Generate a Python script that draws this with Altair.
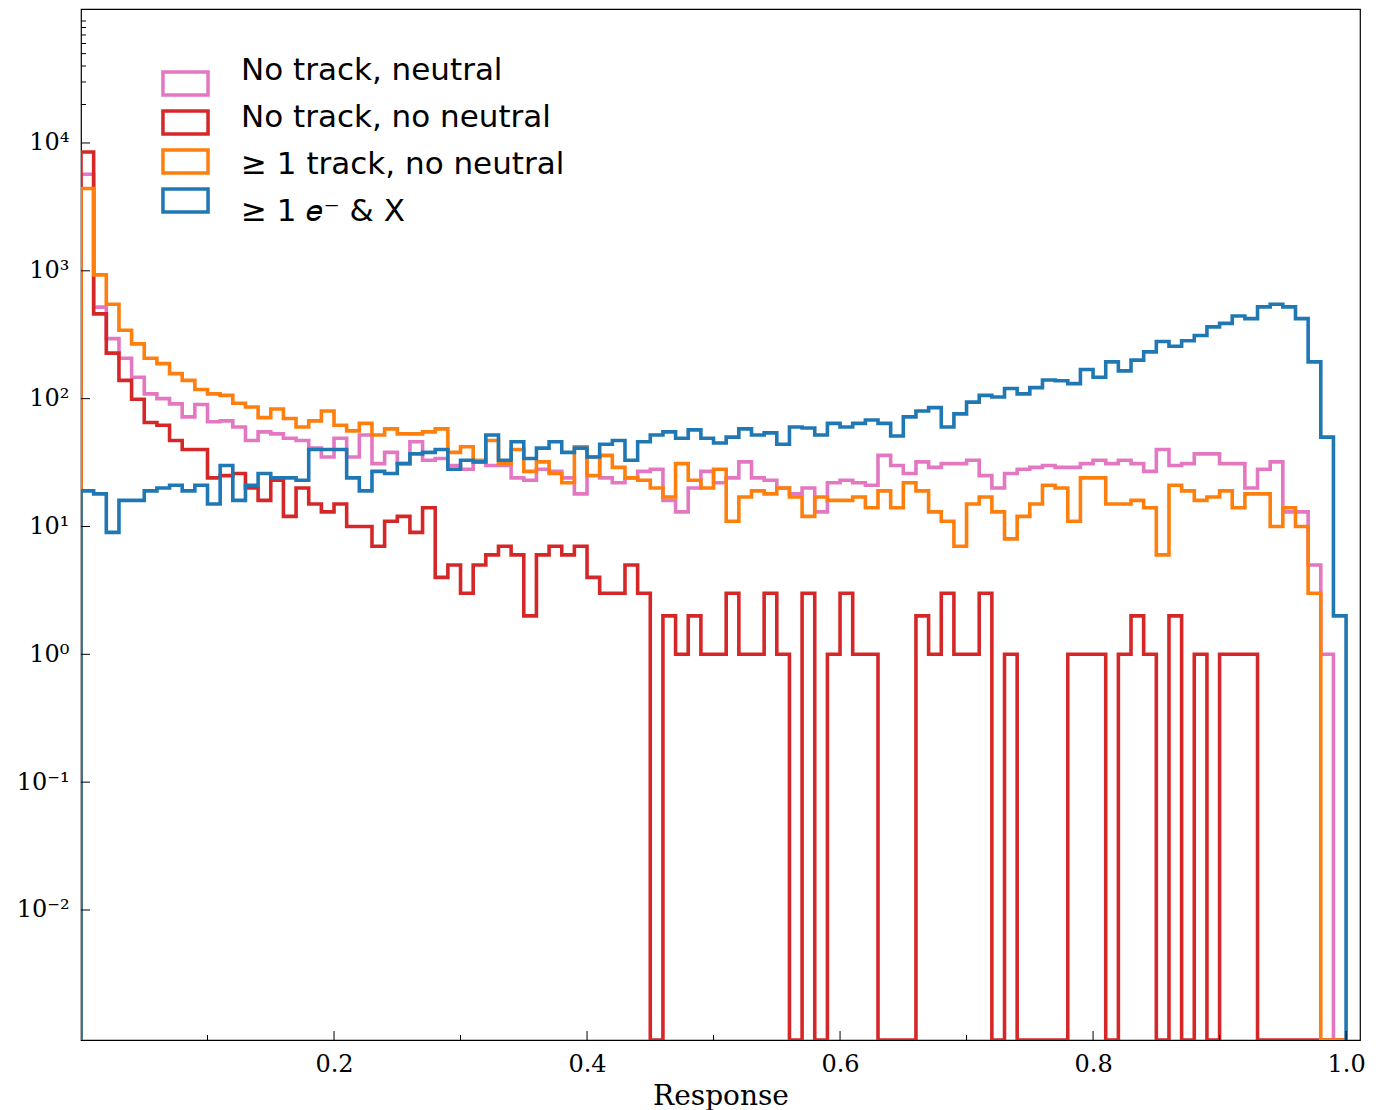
import altair as alt
import pandas as pd
import numpy as np

# ---------------- data ----------------
labels = ["No track, neutral", "No track, no neutral", "≥ 1 track, no neutral", "≥ 1 𝑒⁻ & X"]
colors = ["#e377c2", "#d62728", "#ff7f0e", "#1f77b4"]

no_track_neutral = [
    5700, 520, 295, 207, 147, 109, 100, 91, 72, 90,
    66, 67, 60, 47, 55, 53, 49, 47, 41, 35,
    49, 35, 52, 31, 38, 31, 46, 33, 34, 30,
    28, 32, 30, 30, 24, 23, 28, 27, 24, 18,
    35, 24, 22, 24, 27, 28, 16, 13, 20, 27,
    22, 24, 32, 24, 23, 20, 18, 20, 13, 22,
    23, 22, 21, 36, 30, 26, 32, 29, 31, 31,
    33, 25, 20, 26, 28, 29, 30, 29, 29, 31,
    33, 31, 33, 31, 27, 40, 30, 31, 37, 37,
    31, 31, 20, 28, 32, 13, 13, 5, 1, 0]

no_track_no_neutral = [
    8500, 460, 227, 139, 99, 65, 62, 47, 40, 40,
    24, 25, 26, 20, 16, 23, 12, 20, 15, 13,
    15, 10, 10, 7, 11, 12, 9, 14, 4, 5,
    3, 5, 6, 7, 6, 2, 6, 7, 6, 7,
    4, 3, 3, 5, 3, 0, 2, 1, 2, 1,
    1, 3, 1, 1, 3, 1, 0, 3, 0, 1,
    3, 1, 1, 0, 0, 0, 2, 1, 3, 1,
    1, 3, 0, 1, 0, 0, 0, 0, 1, 1,
    1, 0, 1, 2, 1, 0, 2, 0, 1, 0,
    1, 1, 1, 0, 0, 0, 0, 0, 0, 0]

track_no_neutral = [
    4400, 930, 548, 343, 268, 207, 188, 157, 139, 118,
    109, 106, 92, 86, 71, 83, 70, 60, 67, 80,
    62, 56, 64, 52, 58, 53, 53, 55, 58, 38,
    42, 33, 47, 31, 40, 27, 32, 26, 22, 42,
    25, 36, 29, 24, 23, 20, 17, 31, 23, 20,
    28, 11, 17, 19, 18, 20, 17, 12, 17, 16,
    16, 17, 14, 19, 14, 22, 19, 13, 11, 7,
    15, 17, 13, 8, 12, 15, 21, 20, 11, 24,
    24, 15, 15, 16, 14, 6, 21, 19, 16, 17,
    19, 14, 18, 18, 10, 14, 10, 3, 0, 0]

electron_x = [
    19, 18, 9, 16, 16, 19, 20, 21, 19, 21,
    15, 30, 16, 21, 26, 24, 24, 23, 40, 40,
    40, 24, 19, 27, 26, 31, 37, 38, 40, 28,
    33, 32, 52, 33, 46, 34, 41, 46, 38, 41,
    35, 44, 47, 33, 46, 52, 55, 49, 57, 49,
    45, 50, 58, 52, 54, 44, 60, 59, 52, 64,
    60, 64, 68, 64, 51, 72, 80, 85, 60, 76,
    94, 106, 103, 120, 109, 122, 140, 138, 131, 169,
    147, 194, 165, 200, 232, 280, 257, 284, 312, 364,
    388, 443, 423, 522, 548, 522, 423, 194, 50, 2]

bin_edges = np.linspace(0.0, 1.0, 101)

x_major = [0.2, 0.4, 0.6, 0.8, 1.0]
x_minor = [0.1, 0.3, 0.5, 0.7, 0.9]
y_major = [1e-2, 1e-1, 1e0, 1e1, 1e2, 1e3, 1e4]
y_minor = [2e4, 3e4, 4e4, 5e4, 6e4, 7e4, 8e4, 9e4]

X_DOMAIN = [0.0, 1.011]
Y_MIN, Y_MAX = 10 ** -3.017, 10 ** 5.048

# ---------------- build step outline table ----------------
series = [no_track_neutral, no_track_no_neutral, track_no_neutral, electron_x]
text_keys = [f"{i}|{lab}" for i, lab in enumerate(labels)]
rows = []
for lab, key, counts in zip(labels, text_keys, series):
    pts = [(bin_edges[0], 0.0)]
    pts += [(bin_edges[i], float(c)) for i, c in enumerate(counts)]
    pts += [(bin_edges[-1], float(counts[-1])), (bin_edges[-1], 0.0)]
    for k, (xv, cv) in enumerate(pts):
        rows.append({"series": lab, "lab": key, "idx": k, "x": xv, "count": cv})
df = pd.DataFrame(rows)

W, H = 1279, 1031
xs = alt.Scale(domain=X_DOMAIN, nice=False, zero=False)
ys = alt.Scale(type="log", domain=[Y_MIN, Y_MAX], nice=False)

sup = "['⁰','¹','²','³','⁴','⁵','⁶']"
y_label_expr = ("'10' + (round(log(datum.value)/LN10) < 0 ? '⁻' : '') + "
                + sup + "[abs(round(log(datum.value)/LN10))]")

xaxis = alt.Axis(values=x_major, format=".1f", ticks=False, tickSize=0, domain=False,
                 grid=False, labelFont="DejaVu Serif", labelFontSize=24, labelColor="black",
                 labelPadding=12, labelFlush=False, titleFont="DejaVu Serif", titleFontSize=28,
                 titleFontWeight="normal", titleColor="black", titlePadding=6)
yaxis = alt.Axis(values=y_major, labelExpr=y_label_expr, ticks=False, tickSize=0, domain=False,
                 grid=False, labelFont="DejaVu Serif", labelFontSize=24, labelColor="black",
                 labelPadding=12, labelFlush=False)

legend_symbols = alt.Legend(
    title=None, orient="none", legendX=91, legendY=61, padding=0,
    symbolType="M-1.96,-1H1.96V1H-1.96Z", symbolSize=529, symbolStrokeWidth=3.5,
    symbolFillColor="transparent", labelExpr="''", labelFontSize=1, rowPadding=2)
legend_labels = alt.Legend(
    title=None, orient="none", legendX=129, legendY=46, padding=0,
    symbolOpacity=0, symbolSize=1, labelFont="DejaVu Sans", labelFontSize=31,
    labelColor="black", labelOffset=0, labelLimit=1000, rowPadding=15,
    labelExpr="split(datum.label, '|')[1]")

base = alt.Chart(df).transform_calculate(yv=f"max(datum.count, {Y_MIN})")

layers = []
for lab in labels:
    layers.append(
        base.transform_filter(alt.datum.series == lab)
        .mark_line(interpolate="step-after", strokeWidth=3.6, clip=True, strokeJoin="miter")
        .encode(
            x=alt.X("x:Q", scale=xs, axis=xaxis, title="Response"),
            y=alt.Y("yv:Q", scale=ys, axis=yaxis, title=None),
            order=alt.Order("idx:Q"),
            color=alt.Color("series:N", scale=alt.Scale(domain=labels, range=colors),
                            legend=legend_symbols),
            strokeDash=alt.StrokeDash("lab:N", scale=alt.Scale(domain=text_keys, range=[[1, 0]] * 4),
                                      legend=legend_labels),
        )
    )

def yticks(vals, length):
    return alt.Chart(pd.DataFrame({"v": vals})).mark_rule(color="black", strokeWidth=1).encode(
        y=alt.Y("v:Q", scale=ys, axis=yaxis, title=None),
        x=alt.value(0), x2=alt.value(length))

def xticks(vals, length):
    return alt.Chart(pd.DataFrame({"v": vals})).mark_rule(color="black", strokeWidth=1).encode(
        x=alt.X("v:Q", scale=xs, axis=xaxis, title="Response"),
        y=alt.value(H), y2=alt.value(H - length))

layers += [yticks(y_major, 9), yticks(y_minor, 5), xticks(x_major, 9), xticks(x_minor, 5)]

chart = alt.layer(*layers).properties(
    width=W, height=H,
    padding={"left": 73, "top": 1, "right": 10, "bottom": 70},
    autosize=alt.AutoSizeParams(type="none"),
).configure_view(stroke="black", strokeWidth=1.2)

chart.save("out.html", embed_options={"renderer": "svg", "actions": False})
